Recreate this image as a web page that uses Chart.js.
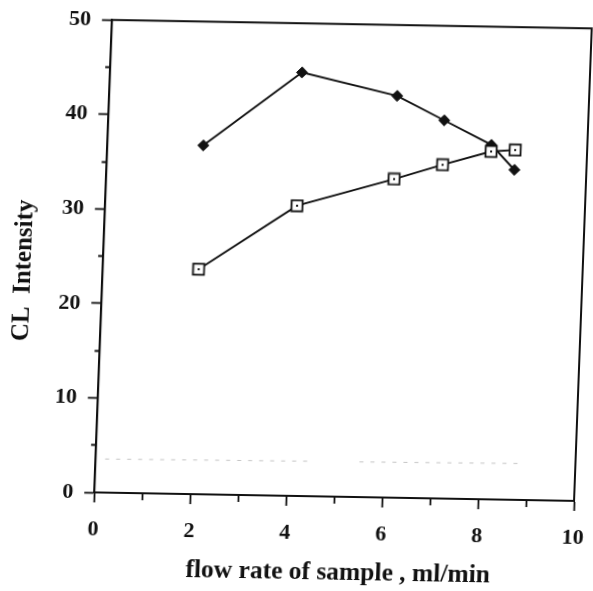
<!DOCTYPE html>
<html>
<head>
<meta charset="utf-8">
<script src="https://cdn.jsdelivr.net/npm/chart.js@4"></script>
<style>
html,body{margin:0;padding:0;background:#fff;overflow:hidden;width:593px;height:591px;}
#c{position:absolute;left:0;top:0;
   transform-origin:343.1px 259.75px;
   transform:matrix(1,0.01772,-0.03741,1,0,0);}
</style>
</head>
<body>
<canvas id="c" width="620" height="591"></canvas>
<script>
// Data
const flowRate = [2, 4, 6, 7, 8, 8.5];
const intensityA = [36.9, 44.8, 42.5, 40.0, 37.5, 34.9];
const intensityB = [23.8, 30.7, 33.7, 35.3, 36.8, 37.0];
const baselineX = [0.2, 4.5, null, 5.5, 8.85];
const baselineY = [3.55, 3.7, null, 3.72, 3.85];
const xTicks = [0, 2, 4, 6, 8, 10];
const yTicks = [0, 10, 20, 30, 40, 50];

const toPts = (xs, ys) => xs.map((x, i) => ({x: x, y: ys[i]}));

// open square marker with a centre dot
function squareMarker() {
  const s = 14, c = document.createElement('canvas');
  c.width = s; c.height = s;
  const g = c.getContext('2d');
  g.fillStyle = '#fff';
  g.fillRect(1.5, 1.5, 11, 11);
  g.strokeStyle = '#111';
  g.lineWidth = 1.8;
  g.strokeRect(1.5, 1.5, 11, 11);
  g.fillStyle = '#111';
  g.fillRect(6, 6, 2, 2);
  return c;
}

const frame = {
  id: 'frame',
  afterDraw(chart) {
    const a = chart.chartArea, ctx = chart.ctx;
    ctx.save();
    ctx.strokeStyle = '#111';
    ctx.lineWidth = 2;
    ctx.strokeRect(a.left, a.top, a.right - a.left, a.bottom - a.top);
    ctx.restore();
  }
};

const serif = "'Liberation Serif', 'DejaVu Serif', serif";

new Chart(document.getElementById('c'), {
  type: 'scatter',
  data: {
    datasets: [
      {
        label: 'B',
        data: toPts(flowRate, intensityB),
        showLine: true,
        borderColor: '#111',
        borderWidth: 1.9,
        pointStyle: squareMarker(),
        pointRadius: 7,
        order: 1
      },
      {
        label: 'A',
        data: toPts(flowRate, intensityA),
        showLine: true,
        borderColor: '#111',
        backgroundColor: '#111',
        borderWidth: 1.9,
        pointStyle: 'rectRot',
        pointRadius: 5.5,
        pointBorderWidth: 1,
        order: 2
      },
      {
        label: 'baseline',
        data: toPts(baselineX, baselineY),
        showLine: true,
        spanGaps: false,
        borderColor: '#c4c4c4',
        borderWidth: 1,
        borderDash: [4, 7],
        pointRadius: 0,
        order: 3
      }
    ]
  },
  options: {
    responsive: false,
    animation: false,
    layout: {padding: {left: 0, right: 37, top: 22.5, bottom: 0}},
    plugins: {legend: {display: false}, tooltip: {enabled: false}},
    scales: {
      x: {
        type: 'linear',
        min: 0, max: 10,
        ticks: {
          stepSize: 1,
          autoSkip: false,
          maxRotation: 0,
          padding: 14,
          color: '#111',
          font: {family: serif, size: 22, weight: 'bold'},
          callback: v => xTicks.includes(v) ? String(v) : ''
        },
        grid: {
          display: true, drawOnChartArea: false, drawTicks: true,
          tickLength: 10, tickColor: '#111', tickWidth: 1.8,
          tickBorderDash: ctx => (ctx.tick && xTicks.includes(ctx.tick.value)) ? [] : [6, 100]
        },
        border: {display: true, color: '#111', width: 2},
        title: {display: true, text: '  flow rate of sample , ml/min', color: '#111',
                font: {family: serif, size: 25.5, weight: 'bold'}, padding: {top: 0, bottom: 2}},
        afterFit: s => { s.height = 94; }
      },
      y: {
        type: 'linear',
        min: 0, max: 50,
        ticks: {
          stepSize: 5,
          autoSkip: false,
          padding: 11,
          color: '#111',
          font: {family: serif, size: 22, weight: 'bold'},
          callback: v => yTicks.includes(v) ? String(v) : ''
        },
        grid: {
          display: true, drawOnChartArea: false, drawTicks: true,
          tickLength: 10, tickColor: '#111', tickWidth: 1.8,
          tickBorderDash: ctx => (ctx.tick && yTicks.includes(ctx.tick.value)) ? [] : [0, 5, 6, 100]
        },
        border: {display: true, color: '#111', width: 2},
        title: {display: true, text: 'CL  Intensity     ', color: '#111',
                font: {family: serif, size: 25, weight: 'bold'}, padding: {top: 10, bottom: 0}},
        afterFit: s => { s.width = 103.2; }
      }
    }
  },
  plugins: [frame]
});
</script>
</body>
</html>
